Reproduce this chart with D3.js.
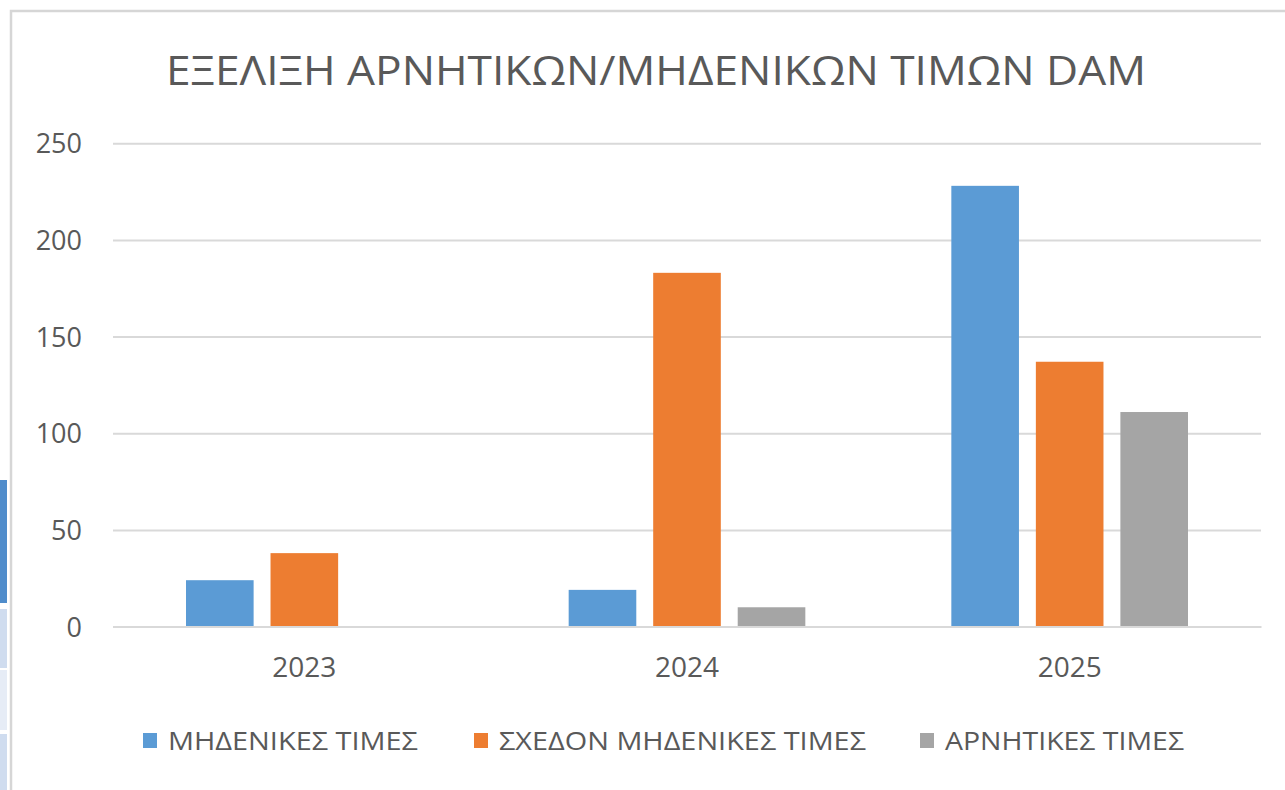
<!DOCTYPE html>
<html><head><meta charset="utf-8">
<script src="https://cdn.jsdelivr.net/npm/d3@7"></script>
<style>body{margin:0;background:#fff;}svg{display:block;font-family:"Open Sans",sans-serif;}</style>
</head><body>
<svg id="c" width="1285" height="790"></svg>
<script>
const title = "ΕΞΕΛΙΞΗ ΑΡΝΗΤΙΚΩΝ/ΜΗΔΕΝΙΚΩΝ ΤΙΜΩΝ DAM";
const categories = ["2023", "2024", "2025"];
const seriesNames = ["ΜΗΔΕΝΙΚΕΣ ΤΙΜΕΣ", "ΣΧΕΔΟΝ ΜΗΔΕΝΙΚΕΣ ΤΙΜΕΣ", "ΑΡΝΗΤΙΚΕΣ ΤΙΜΕΣ"];
const zeroValues = [24, 19, 228];
const nearZeroValues = [38, 183, 137];
const negativeValues = [0, 10, 111];
const yTicks = [0, 50, 100, 150, 200, 250];
const colors = ["#5B9BD5", "#ED7D31", "#A5A5A5"];

const svg = d3.select("#c");
// frame fragments
svg.append("rect").attr("x",0).attr("y",480).attr("width",7).attr("height",123).attr("fill","#4F8CCB");
svg.append("rect").attr("x",0).attr("y",609).attr("width",7).attr("height",59).attr("fill","#CFDCEF");
svg.append("rect").attr("x",0).attr("y",670).attr("width",7).attr("height",60).attr("fill","#E6ECF6");
svg.append("rect").attr("x",0).attr("y",734).attr("width",7).attr("height",56).attr("fill","#CFDCEF");
svg.append("path").attr("d","M11,790 V11 H1285").attr("fill","none").attr("stroke","#D6D6D6").attr("stroke-width",2.5);

const series = [zeroValues, nearZeroValues, negativeValues];
const data = categories.map((c,i)=>({cat:c, vals: series.map(s=>s[i])}));

const x0 = d3.scaleBand().domain(categories).range([113, 1261]).paddingInner(0).paddingOuter(0);
const x1 = d3.scaleBand().domain(d3.range(3)).range([73, x0.bandwidth()-73]).paddingInner(0.2).paddingOuter(0);
const y = d3.scaleLinear().domain([0, 250]).range([626.6, 143.3]);

// gridlines
const yAxis = svg.append("g").attr("transform","translate(113,0)")
  .call(d3.axisLeft(y).tickValues(yTicks).tickSize(-1148).tickPadding(31));
yAxis.select(".domain").remove();
yAxis.selectAll(".tick line").attr("stroke","#D9D9D9").attr("stroke-width",2);
yAxis.selectAll(".tick text").attr("fill","#595959").attr("font-size",27).attr("font-family","Open Sans").attr("dy","0.35em");

// bars
const g = svg.append("g");
data.forEach(d=>{
  d.vals.forEach((v,j)=>{
    if (v<=0) return;
    g.append("rect")
      .attr("x", x0(d.cat)+x1(j))
      .attr("y", y(v))
      .attr("width", x1.bandwidth())
      .attr("height", y(0)-y(v))
      .attr("fill", colors[j]);
  });
});

// x axis
const xAxis = svg.append("g").attr("transform",`translate(0,${y(0)})`)
  .call(d3.axisBottom(x0).tickSize(0).tickPadding(31));
xAxis.select(".domain").attr("stroke","#D9D9D9").attr("stroke-width",2);
xAxis.selectAll(".tick text").attr("fill","#595959").attr("font-size",28).attr("font-family","Open Sans").attr("dy","0.71em");

// title
svg.append("text").attr("x",656).attr("y",85).attr("text-anchor","middle")
  .attr("fill","#595959").attr("font-size",40)
  .attr("textLength",980).attr("lengthAdjust","spacingAndGlyphs")
  .text(title);

// legend
const legX = [143, 474, 920];
const legW = [250, 367, 239];
seriesNames.forEach((n,i)=>{
  svg.append("rect").attr("x",legX[i]).attr("y",733).attr("width",14).attr("height",15).attr("fill",colors[i]);
  svg.append("text").attr("x",legX[i]+25).attr("y",750).attr("fill","#595959").attr("font-size",25)
    .attr("textLength",legW[i]).attr("lengthAdjust","spacingAndGlyphs").text(n);
});
</script>
</body></html>
